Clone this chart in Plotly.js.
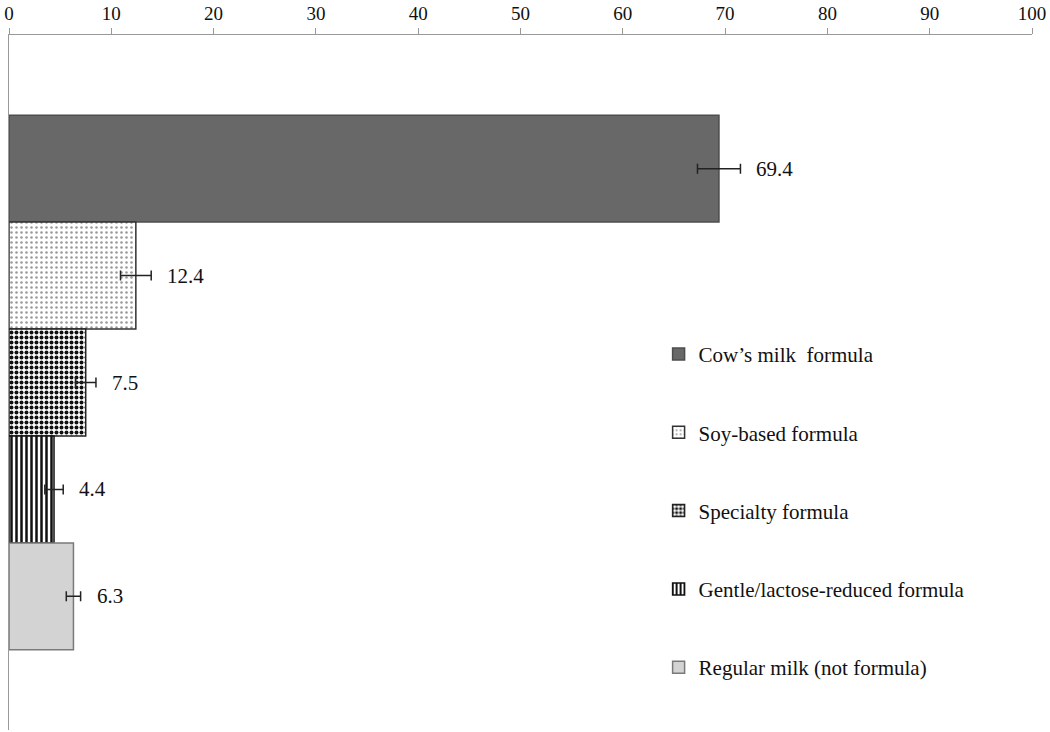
<!DOCTYPE html>
<html>
<head>
<meta charset="utf-8">
<script src="https://cdn.plot.ly/plotly-3.0.1.min.js"></script>
<style>
  html, body { margin: 0; padding: 0; background: #fff; }
  #chart { width: 1050px; height: 732px; }
</style>
</head>
<body>
<div id="chart"></div>
<script>
// data
var labels = ["Cow\u2019s milk  formula", "Soy-based formula", "Specialty formula", "Gentle/lactose-reduced formula", "Regular milk (not formula)"];
var values = [69.4, 12.4, 7.5, 4.4, 6.3];
var errors = [2.1, 1.5, 1.0, 0.9, 0.7];
var positions = [0, 1, 2, 3, 4];
var xTicks = [0, 10, 20, 30, 40, 50, 60, 70, 80, 90, 100];

// one look per bar
var looks = [
  {color: "#686868", line: "#4d4d4d", pattern: {shape: ""}},
  {color: "#ffffff", line: "#333333", pattern: {shape: ".", fgcolor: "#999999", bgcolor: "#ffffff", size: 5, solidity: 0.2}},
  {color: "#ffffff", line: "#222222", pattern: {shape: ".", fgcolor: "#111111", bgcolor: "#ffffff", size: 5, solidity: 0.5}},
  {color: "#ffffff", line: "#111111", pattern: {shape: "|", fgcolor: "#111111", bgcolor: "#ffffff", size: 5, solidity: 0.5}},
  {color: "#d3d3d3", line: "#7a7a7a", pattern: {shape: ""}}
];

var serif = "Liberation Serif, Times New Roman, serif";

var data = labels.map(function(name, i) {
  return {
    type: "bar",
    orientation: "h",
    name: name,
    legendgroup: "g" + i,
    x: [values[i]],
    y: [positions[i]],
    width: 1,
    marker: {
      color: looks[i].color,
      line: {color: looks[i].line, width: 1.5},
      pattern: looks[i].pattern
    },
    error_x: {type: "data", array: [errors[i]], color: "#222222", thickness: 1.5, width: 5},
    hoverinfo: "x+name"
  };
});

// value labels to the right of each error bar
var annotations = values.map(function(v, i) {
  return {
    x: v + errors[i],
    y: positions[i],
    xref: "x",
    yref: "y",
    text: v.toFixed(1),
    showarrow: false,
    xanchor: "left",
    xshift: 14,
    font: {family: serif, size: 21, color: "#111111"}
  };
});

var layout = {
  width: 1050,
  height: 732,
  margin: {l: 9, r: 18, t: 35, b: 2},
  paper_bgcolor: "#ffffff",
  plot_bgcolor: "#ffffff",
  barmode: "overlay",
  bargap: 0,
  showlegend: true,
  legend: {
    x: 0.635,
    xanchor: "left",
    y: 0.57,
    yanchor: "top",
    traceorder: "grouped",
    tracegroupgap: 48,
    font: {family: serif, size: 21, color: "#111111"},
    itemwidth: 30,
    bgcolor: "rgba(0,0,0,0)"
  },
  xaxis: {
    side: "top",
    range: [0, 100],
    tickvals: xTicks,
    ticks: "outside",
    ticklen: 6,
    tickcolor: "#999999",
    showline: true,
    linecolor: "#999999",
    linewidth: 1.5,
    showgrid: false,
    zeroline: false,
    tickfont: {family: serif, size: 19, color: "#111111"}
  },
  yaxis: {
    range: [5.25, -1.25],
    showticklabels: false,
    ticks: "",
    showline: true,
    linecolor: "#999999",
    linewidth: 1.5,
    showgrid: false,
    zeroline: false
  },
  annotations: annotations
};

Plotly.newPlot("chart", data, layout, {displayModeBar: false, staticPlot: true});
</script>
</body>
</html>
